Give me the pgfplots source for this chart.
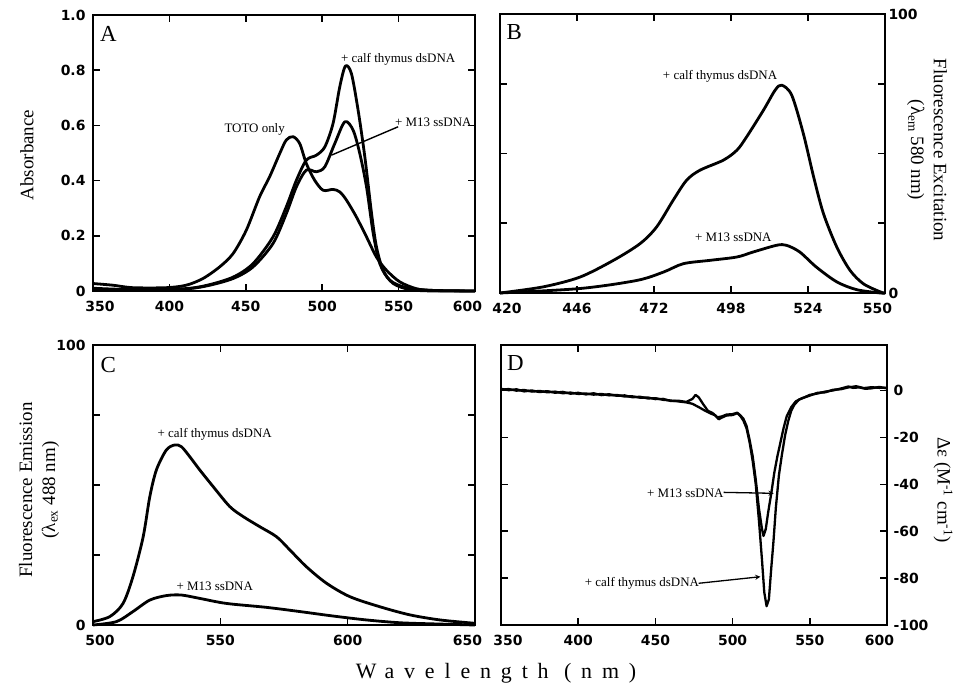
\documentclass[border=0pt]{standalone}
\usepackage{fontspec}
\setmainfont{Liberation Serif}
\newfontfamily\tickfont{DejaVu Sans}
\newfontfamily\spacedfont[LetterSpace=45]{Liberation Serif}
\usepackage{pgfplots}
\pgfplotsset{compat=1.18}

\pgfplotsset{
  panel/.style={
    scale only axis, anchor=south west, clip=false,
    axis line style={line width=2.4bp},
    tick style={line width=1.6bp, black},
    major tick length=7bp,
    tick align=inside,
    ticklabel style={font=\tickfont\bfseries\fontsize{14}{16}\selectfont},
    xticklabel style={yshift=-7bp},
    /pgf/number format/assume math mode=true,
    every axis plot/.append style={line width=2.8bp, black, line join=round},
  },
}
\tikzset{
  note/.style={font=\fontsize{13}{15}\selectfont},
  letter/.style={font=\fontsize{23}{25}\selectfont},
}
\newcommand{\lft}[1]{\hspace*{14bp}#1}
\newcommand{\rgt}[1]{#1\hspace*{15bp}}

\begin{document}
\begin{tikzpicture}[x=1bp,y=1bp]
\path[use as bounding box] (0,0) rectangle (956,695);

% ---------- A: absorbance ----------
\begin{axis}[panel, at={(93bp,404bp)}, width=382bp, height=276bp,
  xmin=350, xmax=600, ymin=0, ymax=1,
  xtick={350,400,450,500,550,600},
  xticklabels={\lft{350},400,450,500,550,\rgt{600}},
  ytick={0,0.2,0.4,0.6,0.8,1.0},
  yticklabels={0,0.2,0.4,0.6,0.8,1.0},
  yticklabel style={xshift=-4bp},
  xtick pos=both, ytick pos=both, xticklabel pos=bottom, yticklabel pos=left]
% TOTO only
\addplot[smooth, tension=0.5] coordinates {
(350,0.027)(362.9,0.021)(376,0.012)(397.9,0.012)(411,0.021)(421.9,0.045)
(432.8,0.087)(441.6,0.135)(450.3,0.22)(459,0.341)(465.6,0.414)(472.2,0.498)
(476.5,0.547)(480.9,0.559)(485.3,0.534)(489.6,0.462)(495.1,0.401)(500.6,0.365)
(507.1,0.368)(511.5,0.359)(515.9,0.329)(522.4,0.268)(529,0.196)(535.5,0.123)
(542.1,0.075)(550.8,0.033)(561.8,0.008)(572.7,0.002)(600,0)};
% + calf thymus dsDNA
\addplot[smooth, tension=0.5] coordinates {
(350,0.010)(376,0.005)(408.8,0.008)(424.1,0.02)(441.6,0.05)(454.7,0.099)
(467.8,0.196)(476.5,0.305)(483.1,0.401)(489.6,0.474)(496.2,0.492)(501.7,0.522)
(507.1,0.607)(511.5,0.74)(515.2,0.815)(519.1,0.788)(523.5,0.655)(527.9,0.486)
(532.3,0.281)(535.5,0.16)(539.9,0.075)(546.5,0.027)(557.4,0.005)(572.7,0)(600,0)};
% + M13 ssDNA
\addplot[smooth, tension=0.5] coordinates {
(350,0.006)(376,0.004)(408.8,0.007)(424.1,0.018)(441.6,0.045)(454.7,0.087)
(467.8,0.172)(476.5,0.28)(483.1,0.377)(489.6,0.438)(496.2,0.432)(501.7,0.45)
(508.2,0.534)(514.8,0.613)(520.2,0.583)(524.6,0.498)(529,0.377)(533.4,0.208)
(537.7,0.099)(544.3,0.039)(555.2,0.012)(572.7,0.002)(600,0)};
\node[letter] at (axis cs:360,0.93) {A};
\node[note] at (axis cs:455.8,0.585) {TOTO only};
\node[note] at (axis cs:549.7,0.839) {+ calf thymus dsDNA};
\node[note] at (axis cs:572.7,0.613) {+ M13 ssDNA};
\draw[line width=1.4bp] (axis cs:549.7,0.595) -- (axis cs:506,0.492);
\end{axis}

% ---------- B: fluorescence excitation ----------
\begin{axis}[panel, at={(500bp,402bp)}, width=385bp, height=279bp,
  xmin=420, xmax=550, ymin=0, ymax=100,
  xtick={420,446,472,498,524,550},
  xticklabels={\lft{420},446,472,498,524,\rgt{550}},
  ytick={0,25,50,75,100}, yticklabels={0,,,,100},
  xtick pos=both, xticklabel pos=bottom, yticklabel pos=right, ytick pos=both]
\addplot[smooth, tension=0.5] coordinates {
(420,0)(434.6,2.2)(447,5.7)(458.3,11.7)(467.3,17.7)(472.9,23.7)(478.5,33.3)
(483,40.4)(487.5,44)(495.4,47.6)(500,51.2)(503.3,56)(509,65.6)(512.9,72.7)
(515.1,74.5)(518.5,70.9)(522.4,57.2)(525.9,41.6)(529.2,28.5)(533.7,16.5)
(538.2,8.1)(542.7,3.3)(548.4,0.4)(550,0)};
\addplot[smooth, tension=0.5] coordinates {
(420,0)(447,1.6)(466.2,4.5)(475.2,7.5)(481.9,10.5)(490.9,11.7)(500,12.9)
(505.5,14.7)(513.4,17.1)(516.7,17.1)(521.2,14.7)(526.8,9.3)(533.7,4)
(540.4,1.2)(548.4,0)(550,0)};
\node[letter] at (axis cs:424.8,93.5) {B};
\node[note] at (axis cs:494.3,77.5) {+ calf thymus dsDNA};
\node[note] at (axis cs:498.8,19.9) {+ M13 ssDNA};
\end{axis}

% ---------- C: fluorescence emission ----------
\begin{axis}[panel, at={(93bp,70bp)}, width=382bp, height=280bp,
  xmin=500, xmax=650, ymin=0, ymax=100,
  xtick={500,550,600,650},
  xticklabels={\lft{500},550,600,\rgt{650}},
  ytick={0,25,50,75,100}, yticklabels={0,,,,100},
  yticklabel style={xshift=-4bp},
  xtick pos=both, ytick pos=both, xticklabel pos=bottom, yticklabel pos=left]
\addplot[smooth, tension=0.5] coordinates {
(500,1.2)(506.6,3)(511.8,7.7)(515.7,17.3)(519.7,31.5)(522.3,45.8)(524.9,55.4)
(528.8,62.5)(532.1,64.3)(534.7,63.7)(538,60.1)(541.9,55.4)(547.2,49.4)
(553.7,42.3)(559,38.7)(565.5,35.1)(572.1,31.5)(577.3,26.8)(583.8,20.8)
(591.7,14.9)(600.9,10.1)(612.7,6.5)(624.5,3.6)(636.3,1.8)(650,0.6)};
\addplot[smooth, tension=0.5] coordinates {
(500,0)(509.2,1.2)(515.7,4.8)(522.3,8.9)(528.8,10.5)(534.7,10.7)(541.9,9.5)
(552.4,7.7)(568.1,6.3)(581.2,4.8)(594.3,3.2)(607.4,1.8)(620.5,0.8)(633.6,0.4)(650,0)};
\node[letter] at (axis cs:506,93) {C};
\node[note] at (axis cs:547.8,68.2) {+ calf thymus dsDNA};
\node[note] at (axis cs:547.8,13.7) {+ M13 ssDNA};
\end{axis}

% ---------- D: circular dichroism ----------
\begin{axis}[panel, at={(501bp,70bp)}, width=386bp, height=280bp,
  xmin=350, xmax=600, ymin=-100, ymax=19.5,
  xtick={350,400,450,500,550,600},
  xticklabels={\lft{350},400,450,500,550,\rgt{600}},
  ytick={-100,-80,-60,-40,-20,0}, yticklabels={-100,-80,-60,-40,-20,0},
  yticklabel style={xshift=3bp},
  xtick pos=both, xticklabel pos=bottom, yticklabel pos=right, ytick pos=both]
% + calf thymus dsDNA
\addplot[line width=2.3bp] coordinates {
(350,0.8)(355,0.2)(360,0.6)(365,-0.3)(370,0.1)(375,-0.6)(380,-0.2)(385,-0.9)
(390,-0.5)(395,-1.3)(400,-0.9)(405,-1.6)(410,-1.1)(415,-1.9)(420,-1.5)(425,-2.2)
(430,-2.0)(435,-2.8)(440,-2.6)(445,-3.3)(450,-3.2)(455,-3.9)(460,-4.2)(465,-4.6)
(470,-5.0)(474,-5.6)(478,-7.0)(482,-8.5)(486,-9.8)(489,-10.6)(491,-12.2)(493,-11.5)
(496,-10.6)(500,-10.4)(503,-9.6)(505,-10.8)(507,-12.8)(509,-16)(511,-22)(513,-30)
(515,-40)(517,-55)(519,-72)(520.5,-86)(522,-92)(523.5,-89)(525,-76)(526.5,-64)
(528,-50)(530,-36)(532,-27)(534,-19)(536,-13)(538,-8.5)(540,-6)(543,-3.8)(546,-3.0)
(550,-1.8)(555,-1.2)(560,-0.4)(565,0.1)(570,0.9)(575,1.8)(578,1.2)(582,1.4)
(586,0.8)(590,1.0)(595,1.6)(600,1.0)};
% + M13 ssDNA
\addplot[line width=2.3bp] coordinates {
(350,0.4)(355,0.7)(360,0.0)(365,0.3)(370,-0.4)(375,-0.1)(380,-0.7)(385,-0.4)
(390,-1.1)(395,-0.8)(400,-1.4)(405,-1.2)(410,-1.7)(415,-1.4)(420,-2.0)(425,-1.8)
(430,-2.5)(435,-2.4)(440,-3.0)(445,-2.9)(450,-3.6)(455,-3.5)(460,-4.4)(465,-4.3)
(470,-4.8)(474,-3.5)(476,-1.8)(478,-2.8)(481,-5.8)(484,-8.6)(487,-9.5)(490,-11.4)
(493,-11.0)(496,-10.2)(500,-10.0)(503,-9.4)(505,-10.5)(507,-12)(509,-15)(511,-21)
(513,-28)(515,-38)(517,-50)(519,-59)(520,-62)(521.5,-59)(523,-52)(525,-44)
(527,-35)(529,-28)(531,-22)(533,-16)(535,-11)(538,-7)(541,-4.5)(545,-3.2)
(550,-2.1)(555,-0.9)(560,-0.7)(565,0.4)(570,0.6)(575,1.4)(580,1.9)(585,1.1)
(590,1.5)(595,1.2)(600,1.3)};
\node[letter] at (axis cs:359.3,11.7) {D};
\node[note] at (axis cs:469.4,-43.8) {+ M13 ssDNA};
\draw[line width=1.3bp, -stealth] (axis cs:494.2,-43.4) -- (axis cs:526.6,-43.8);
\node[note] at (axis cs:441.3,-82.2) {+ calf thymus dsDNA};
\draw[line width=1.3bp, -stealth] (axis cs:478,-82.2) -- (axis cs:518,-79.4);
\end{axis}

% ---------- axis titles ----------
\node[rotate=90, font=\fontsize{19}{22}\selectfont] at (27,540) {Absorbance};
\node[rotate=90, align=center, font=\fontsize{19}{23}\selectfont] at (39,205)
  {Fluorescence Emission\\(λ\textsubscript{ex} 488 nm)};
\node[rotate=-90, align=center, font=\fontsize{19}{23}\selectfont] at (927,545)
  {Fluorescence Excitation\\(λ\textsubscript{em} 580 nm)};
\node[rotate=-90, font=\fontsize{19}{22}\selectfont] at (943,205)
  {Δε (M\textsuperscript{-1} cm\textsuperscript{-1})};
\node[font=\spacedfont\fontsize{22}{24}\selectfont] at (496,22) {Wavelength (nm)};
\end{tikzpicture}
\end{document}
